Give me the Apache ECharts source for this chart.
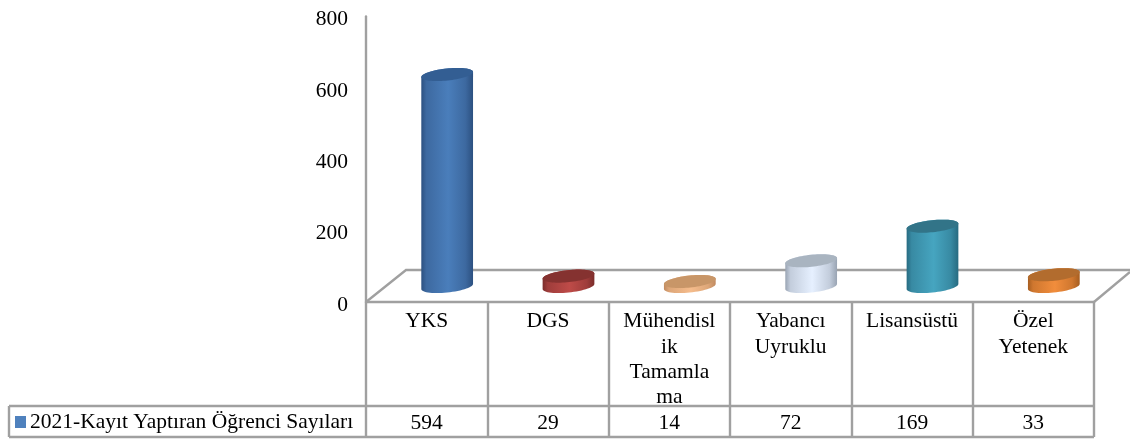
<!DOCTYPE html>
<html><head><meta charset="utf-8">
<style>html,body{margin:0;padding:0;background:#fff}#c{width:1130px;height:439px}</style>
<script src="https://cdn.jsdelivr.net/npm/echarts@6/dist/echarts.min.js"></script>
</head><body><div id="c"></div>
<script>
const categories = ['YKS','DGS','Mühendisl\nik\nTamamla\nma','Yabancı\nUyruklu','Lisansüstü','Özel\nYetenek'];
const values = [594,29,14,72,169,33];
const seriesName = '2021-Kayıt Yaptıran Öğrenci Sayıları';
const edgeColors = ['#2c5080','#7a2c2a','#c08a60','#98a3b2','#276a80','#a55d20'];
const midColors = ['#4a7ebb','#be4b48','#f5bc8c','#e6f0ff','#46a5c0','#f18d3c'];
const topColors = ['#335e93','#853230','#c89668','#a9b4c0','#327488','#b26c2e'];

const FONT = '"Liberation Serif","Times New Roman",serif';
const GRID = '#a0a0a0';
const A = 26, B = 6, THETA = 6 * Math.PI / 180, DX = 20.5, DY = 15.5, FS = 21.5, LW = 2.4;
const T0 = Math.atan2(B * Math.sin(THETA), A * Math.cos(THETA));

function ellipsePts(cx, cy, from, to, n) {
  const pts = [];
  for (let k = 0; k <= n; k++) {
    const t = from + (to - from) * k / n;
    pts.push([
      cx + A * Math.cos(t) * Math.cos(THETA) + B * Math.sin(t) * Math.sin(THETA),
      cy - A * Math.cos(t) * Math.sin(THETA) + B * Math.sin(t) * Math.cos(THETA)
    ]);
  }
  return pts;
}
function renderCyl(params, api) {
  const i = api.value(0), v = api.value(1);
  const p0 = api.coord([i, 0]), p1 = api.coord([i, v]);
  const cx = p0[0] + DX, by = p0[1] - DY, ty = p1[1] - DY;
  const body = ellipsePts(cx, by, T0, T0 + Math.PI, 30)
    .concat(ellipsePts(cx, ty, T0 + Math.PI, T0 + 2 * Math.PI, 30));
  const blend = echarts.color.lerp(0.55, [edgeColors[i], midColors[i]]);
  const grad = {type:'linear', global:true, x:cx-A, y:0, x2:cx+A, y2:0, colorStops:[
    {offset:0, color:edgeColors[i]},{offset:.1, color:blend},
    {offset:.52, color:midColors[i]},{offset:.85, color:blend},{offset:1, color:edgeColors[i]}]};
  return {type:'group', children:[
    {type:'polygon', shape:{points:body}, style:{fill:grad}},
    {type:'polygon', shape:{points:ellipsePts(cx, ty, 0, 2*Math.PI, 72)}, style:{fill:topColors[i]}}
  ]};
}
const chart = echarts.init(document.getElementById('c'), null, {renderer:'canvas'});
const line = (pts) => ({type:'polyline', z:1, shape:{points:pts}, style:{stroke:GRID, lineWidth:LW, fill:null}});
chart.setOption({
  animation:false,
  backgroundColor:'#fff',
  textStyle:{fontFamily:FONT},
  grid:{left:366, right:36, top:16.5, bottom:137},
  legend:{left:15, top:411, padding:0, itemWidth:11, itemHeight:12, itemGap:0, icon:'rect',
    data:[seriesName], selectedMode:false,
    textStyle:{fontFamily:FONT, fontSize:FS, color:'#000', padding:[0,0,0,-1]}},
  xAxis:[
    {type:'category', data:categories, position:'bottom',
     axisLine:{lineStyle:{color:GRID, width:LW}},
     axisTick:{show:true, inside:false, length:135, alignWithLabel:false, lineStyle:{color:GRID, width:LW}},
     axisLabel:{interval:0, color:'#000', fontFamily:FONT, fontSize:FS, margin:7, lineHeight:25.3, verticalAlign:'top'}},
    {type:'category', data:values.map(String), position:'bottom', offset:104,
     axisLine:{show:false}, axisTick:{show:false},
     axisLabel:{interval:0, color:'#000', fontFamily:FONT, fontSize:FS, margin:6, verticalAlign:'top'}}
  ],
  yAxis:{type:'value', min:0, max:800, interval:200,
    axisLine:{show:true, lineStyle:{color:GRID, width:LW}},
    axisTick:{show:false}, splitLine:{show:false},
    axisLabel:{margin:18, formatter:'{a|{value}}', rich:{a:{color:'#000', fontFamily:FONT, fontSize:FS, padding:[6,0,0,0]}}}},
  series:[{type:'custom', name:seriesName, renderItem:renderCyl, xAxisIndex:0, yAxisIndex:0,
    z:3, clip:false, itemStyle:{color:'#4f81bd'}, encode:{x:0,y:1},
    data:values.map((v,i)=>[i,v])}],
  graphic:{elements:[
    line([[366,302],[406,270],[1130,270]]),
    line([[1094,302],[1130,272]]),
    line([[9,406],[1094,406]]),
    line([[9,437],[1094,437]]),
    line([[9,406],[9,437]])
  ]}
});
</script></body></html>
